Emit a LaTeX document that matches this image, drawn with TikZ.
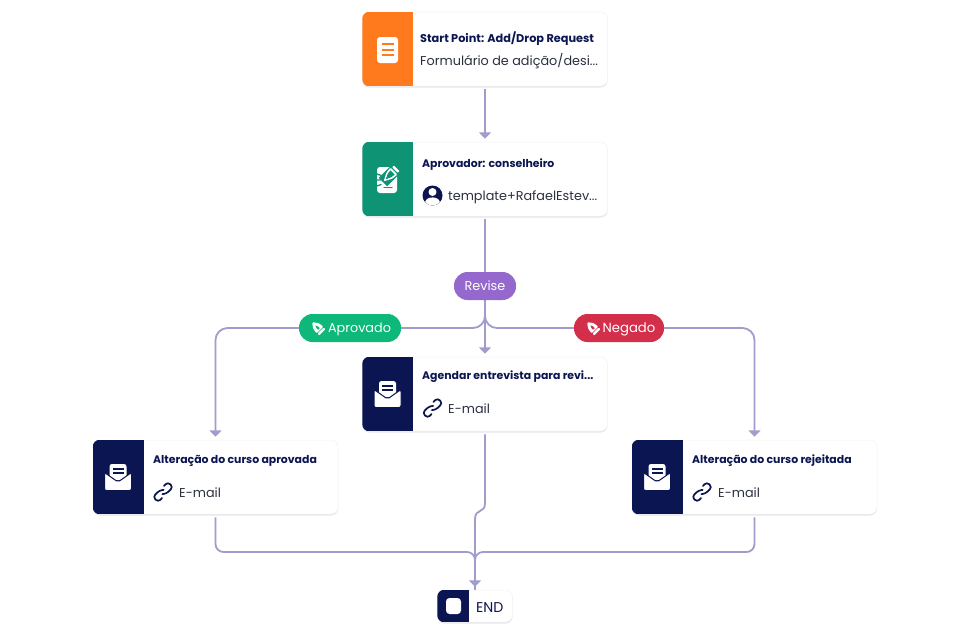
\documentclass[tikz,border=0pt]{standalone}
\usepackage{fontspec}
\setmainfont{Poppins}
\usetikzlibrary{arrows.meta,shadows,backgrounds}
\definecolor{navy}{HTML}{0A1551}
\definecolor{bodytxt}{HTML}{2B3040}
\definecolor{orangeC}{HTML}{FF7A1C}
\definecolor{tealC}{HTML}{0E9375}
\definecolor{purpleC}{HTML}{9468CC}
\definecolor{greenC}{HTML}{0DB87A}
\definecolor{redC}{HTML}{D32F4A}
\definecolor{lineC}{HTML}{A09CCB}
\tikzset{
  cardbox/.style={minimum width=245pt,minimum height=74pt,rounded corners=7pt,fill=white,draw=black!5,line width=.5pt,inner sep=0pt,
    drop shadow={shadow xshift=0pt,shadow yshift=-1.5pt,opacity=.10,fill=navy}},
  pill/.style={rounded corners=13.5pt,minimum height=28pt,inner sep=0pt,text=white,text height=9pt,text depth=0pt,font=\fontsize{12.8}{15}\selectfont},
  titletxt/.style={anchor=west,inner sep=0pt,text=navy,font=\fontsize{10.9}{13}\selectfont\bfseries},
  bodytext/.style={anchor=west,inner sep=0pt,text=bodytxt,font=\fontsize{12.8}{16}\selectfont},
  conn/.style={draw=lineC,line width=1.8pt},
  arrowed/.style={-{Triangle[width=12pt,length=6.5pt]},shorten >=3pt},
}
\newcommand{\panel}[2]{%
  \begin{scope}
    \clip[rounded corners=7pt] (#1.north west) rectangle (#1.south east);
    \fill[#2] (#1.north west) rectangle ([xshift=51pt]#1.south west);
  \end{scope}}
\newcommand{\envicon}[2]{%
  \begin{scope}[shift={(#1,#2)}]
    \fill[white,rounded corners=2.5pt] (-8.5,-13) rectangle (8.5,3);
    \fill[navy] (-5.5,-9) rectangle (5.5,-7.3);
    \fill[navy] (-5.5,-5) rectangle (5.5,-3.3);
    \fill[white,draw=navy,line width=1pt,rounded corners=2pt] (-13.5,-4.5) -- (0,5) -- (13.5,-4.5) -- (13.5,13.5) -- (-13.5,13.5) -- cycle;
  \end{scope}}
\newcommand{\linkicon}[2]{%
  \begin{scope}[shift={(#1,#2)},rotate=45]
    \draw[navy,line width=1.7pt,rounded corners=3pt,line cap=round] (2,-1) -- (-1,-3.6) -- (-10.5,-3.6) -- (-10.5,3.6) -- (-5,3.6);
    \draw[navy,line width=1.7pt,rounded corners=3pt,line cap=round] (-2,1) -- (1,3.6) -- (10.5,3.6) -- (10.5,-3.6) -- (5,-3.6);
  \end{scope}}
\newcommand{\penicon}[3]{%
  \begin{scope}[shift={(#1,#2)},rotate=-135]
    \fill[white,rounded corners=.8pt] (-4.4,-6.8) rectangle (4.4,-4.4);
    \fill[white,rounded corners=1pt] (-4.8,-3.4) -- (4.8,-3.4) -- (3.8,2.5) -- (0,7.5) -- (-3.8,2.5) -- cycle;
    \fill[#3] (-1.2,-2) -- (1.2,-2) -- (1.1,.5) -- (0,3) -- (-1.1,.5) -- cycle;
  \end{scope}}
\begin{document}
\begin{tikzpicture}[x=1pt,y=-1pt]
\useasboundingbox (0,0) rectangle (968,633);

% cards
\node[cardbox] (start) at (485,49) {};
\panel{start}{orangeC}
\node[cardbox] (appr) at (485,179) {};
\panel{appr}{tealC}
\node[cardbox] (agendar) at (485,394) {};
\panel{agendar}{navy}
\node[cardbox] (aprov) at (215.5,477) {};
\panel{aprov}{navy}
\node[cardbox] (rejeit) at (754.5,477) {};
\panel{rejeit}{navy}

% end
\node[cardbox,minimum width=75pt,minimum height=32pt] (endn) at (475,606) {};
\begin{scope}
  \clip[rounded corners=7pt] (endn.north west) rectangle (endn.south east);
  \fill[navy] (endn.north west) rectangle ([xshift=32pt]endn.south west);
\end{scope}
\fill[white,rounded corners=3.5pt] (446,598) rectangle (461,614);
\node[titletxt,font=\fontsize{14.2}{16}\selectfont,text=navy] (endt) at (476,608) {END};

% pills
\node[pill,fill=purpleC,minimum width=62pt] (revise) at (485,286) {Revise};
\node[pill,fill=greenC,minimum width=102pt] (aprovado) at (350,328) {\hspace*{19pt}Aprovado};
\node[pill,fill=redC,minimum width=90pt,font=\fontsize{13.2}{15}\selectfont] (negado) at (619,328) {\hspace*{20pt}Negado};
\penicon{317.5}{327.5}{greenC}
\penicon{592.5}{327.5}{redC}

% texts
\node[titletxt,font=\fontsize{11.3}{13}\selectfont\bfseries] (t1) at (420,38.5) {Start Point: Add/Drop Request};
\node[bodytext] (b1) at (420,61) {Formulário de adição/desi...};
\node[titletxt] (t2) at (422,165) {Aprovador: conselheiro};
\node[bodytext] (b2) at (448,197) {template+RafaelEstev...};
\node[titletxt] (t3) at (422,377) {Agendar entrevista para revi...};
\node[bodytext] (b3) at (448,409) {E-mail};
\node[titletxt] (t4) at (153,461) {Alteração do curso aprovada};
\node[bodytext] (b4) at (179,493) {E-mail};
\node[titletxt] (t5) at (692,461) {Alteração do curso rejeitada};
\node[bodytext] (b5) at (718,493) {E-mail};

% icons
\fill[white,rounded corners=3pt] (377,37) rectangle (398,63);
\fill[orangeC] (381.5,43) rectangle (393.5,45.2);
\fill[orangeC] (381.5,48.7) rectangle (393.5,51);
\fill[orangeC] (381.5,54) rectangle (393.5,56.3);

\fill[white,rounded corners=3pt] (377,167) rectangle (397,193);
\begin{scope}[shift={(390,175)},rotate=-45]
  \fill[tealC] (-6,-10) rectangle (6,10);
  \fill[white,rounded corners=.7pt] (-4,-9.5) rectangle (4,-7);
  \fill[white,rounded corners=1pt] (-5,-5.5) -- (5,-5.5) -- (4.2,1) -- (0,9) -- (-4.2,1) -- cycle;
  \fill[tealC] (-3,-3.6) -- (3,-3.6) -- (2.5,.6) -- (0,6) -- (-2.5,.6) -- cycle;
\end{scope}
\draw[tealC,line width=1.3pt,line cap=round] (377,174) -- (381,175.5) (377,180) -- (381,180) (377,186) -- (381,184.5);
\draw[tealC,line width=1.3pt,line cap=round] (384,187.5) -- (392,187.5);

\fill[navy] (432.5,195.5) circle (10);
\begin{scope}
  \clip (432.5,195.5) circle (9.9);
  \fill[white] (432.5,192) circle (4);
  \fill[white] (432.5,202.8) ellipse (7.5 and 5.4);
\end{scope}

\envicon{387.5}{394}
\envicon{118}{477}
\envicon{657}{477}
\linkicon{432.5}{408}
\linkicon{163}{492}
\linkicon{702}{492}

% connectors
\begin{scope}[on background layer]
  \fill[white] (0,0) rectangle (968,633);
  \draw[conn,arrowed,shorten <=3pt] (start.south) -- (appr.north);
  \draw[conn,shorten <=3pt] (appr.south) -- (revise.north);
  \draw[conn,arrowed] (revise.south) -- (agendar.north);
  \draw[conn,arrowed,rounded corners=12pt] (revise.south) |- (aprovado.west) -| (aprov.north);
  \draw[conn,arrowed,rounded corners=12pt] (revise.south) |- (negado.east) -| (rejeit.north);
  \coordinate (jogA) at (485,503);
  \coordinate (jogB) at (475,519);
  \coordinate (merge) at (475,552);
  \draw[conn,arrowed,shorten <=3pt] (agendar.south) -- (jogA) .. controls (485,514) and (475,508) .. (jogB) -- (endn.north);
  \draw[conn,rounded corners=8pt,shorten <=3pt] (aprov.south) |- (merge) -- (endn.north);
  \draw[conn,rounded corners=8pt,shorten <=3pt] (rejeit.south) |- (merge) -- (endn.north);
\end{scope}
\end{tikzpicture}
\end{document}
